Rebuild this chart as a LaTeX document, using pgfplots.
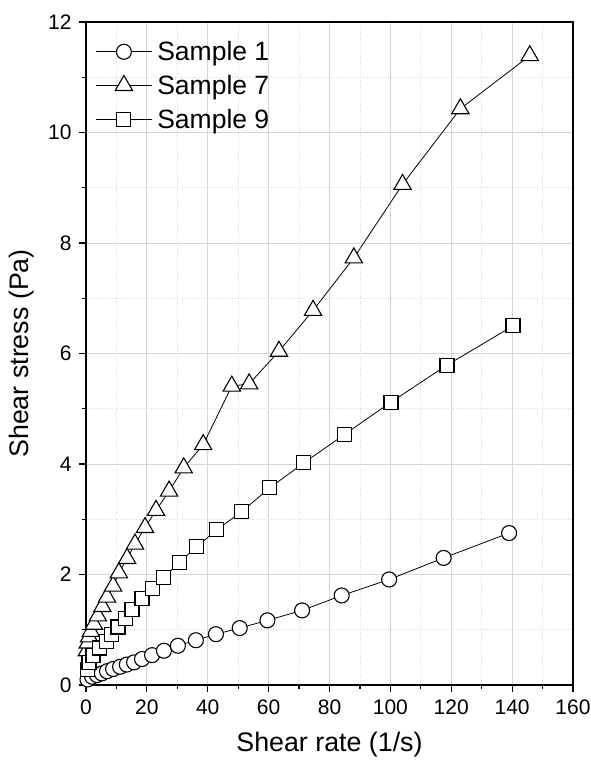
\documentclass[border=0pt]{standalone}
\usepackage{fontspec}
\setmainfont{Liberation Sans}
\usepackage{pgfplots}
\pgfplotsset{compat=1.18}

\pgfplotstableread{
x y
0.5 0.10
2.0 0.15
3.6 0.18
5.2 0.21
6.9 0.25
8.9 0.29
11.2 0.33
13.4 0.37
15.8 0.41
18.4 0.47
21.7 0.54
25.6 0.62
30.2 0.71
36.1 0.81
42.7 0.92
50.5 1.03
59.6 1.17
71.0 1.35
84.0 1.62
99.6 1.91
117.5 2.30
139.0 2.75
}\sampleone

\pgfplotstableread{
x y
0.3 0.62
0.6 0.76
1.0 0.87
1.6 0.97
2.6 1.10
3.9 1.25
5.4 1.42
6.9 1.59
8.9 1.79
10.8 2.03
13.5 2.29
16.1 2.55
19.4 2.85
23.0 3.16
27.3 3.51
32.1 3.93
38.5 4.35
47.9 5.41
53.6 5.45
63.4 6.04
74.6 6.78
88.0 7.73
104.0 9.06
123.0 10.43
145.8 11.39
}\sampleseven

\pgfplotstableread{
x y
0.4 0.28
1.0 0.40
2.3 0.54
4.3 0.67
6.6 0.79
8.5 0.92
10.5 1.05
13.1 1.21
15.1 1.37
18.4 1.56
21.7 1.75
25.6 1.95
30.7 2.22
36.3 2.50
43.0 2.81
51.2 3.14
60.4 3.57
71.6 4.02
84.8 4.53
100.2 5.12
118.6 5.79
140.3 6.50
}\samplenine

\begin{document}
\begin{tikzpicture}
\begin{axis}[
    name=main,
    scale only axis,
    width=487pt, height=663pt,
    xmin=0, xmax=160, ymin=0, ymax=12,
    xtick distance=20, ytick distance=2,
    minor x tick num=1, minor y tick num=1,
    grid=both,
    major grid style={draw=black!16, line width=0.9pt},
    minor grid style={draw=black!14, dotted, line width=0.7pt},
    axis line style={line width=1.6pt},
    tick style={black, line width=1.2pt},
    major tick length=7pt, minor tick length=4pt,
    tick align=outside,
    xtick pos=bottom, ytick pos=left,
    tick label style={font=\fontsize{21}{23}\selectfont},
    xticklabel style={yshift=-4pt},
    yticklabel style={xshift=-4pt},
    /pgf/number format/assume math mode=true,
    xlabel={Shear rate (1/s)},
    ylabel={Shear stress (Pa)},
    label style={font=\fontsize{26.8}{30}\selectfont},
    xlabel style={at={(axis description cs:0.5,-0.0905)}, anchor=center},
    ylabel style={at={(axis description cs:-0.1314,0.5)}, anchor=center},
    legend style={at={(0.015,0.977)}, anchor=north west, draw=none, fill=none,
        font=\fontsize{26.5}{29}\selectfont, row sep=9pt, inner sep=2pt,
        nodes={inner xsep=5pt}},
    legend cell align=left,
    legend image code/.code={\draw[mark repeat=2, mark phase=2, #1]
        plot coordinates {(0pt,0pt) (28pt,0pt) (56pt,0pt)};},
]
\addplot[black, line width=0.8pt, mark=*, mark size=7.5pt,
    mark options={fill=white, draw=black, line width=1.1pt}] table {\sampleone};
\addplot[black, line width=0.8pt, mark=triangle*, mark size=10pt,
    mark options={fill=white, draw=black, line width=1.1pt}] table {\sampleseven};
\addplot[black, line width=0.8pt, mark=square*, mark size=7pt,
    mark options={fill=white, draw=black, line width=1.1pt}] table {\samplenine};
\legend{Sample 1, Sample 7, Sample 9}
\end{axis}
\pgfresetboundingbox
\path ([shift={(-86pt,-79pt)}]main.south west) rectangle ([shift={(17pt,22pt)}]main.north east);
\end{tikzpicture}
\end{document}
